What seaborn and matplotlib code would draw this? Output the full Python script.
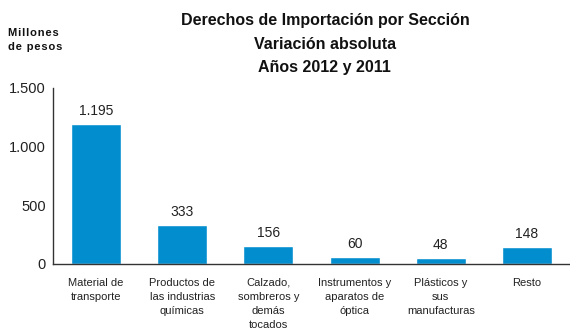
import matplotlib
matplotlib.use("Agg")
import matplotlib.pyplot as plt
import seaborn as sns
import pandas as pd

categories = ["Material de\ntransporte", "Productos de\nlas industrias\nquímicas",
              "Calzado,\nsombreros y\ndemás\ntocados", "Instrumentos y\naparatos de\nóptica",
              "Plásticos y\nsus\nmanufacturas", "Resto"]
values = [1195, 333, 156, 60, 48, 148]
value_labels = ["1.195", "333", "156", "60", "48", "148"]
yticks = [0, 500, 1000, 1500]
ytick_labels = ["0", "500", "1.000", "1.500"]
unit_label = "Millones\nde pesos"

sns.set_theme(style="white")
plt.rcParams['font.family'] = ['Liberation Sans', 'DejaVu Sans']

df = pd.DataFrame({"cat": categories, "val": values})
fig = plt.figure(figsize=(5.7, 3.34), dpi=100)
ax = fig.add_axes([0.093, 0.2096, 0.907, 0.527])
sns.barplot(data=df, x="cat", y="val", color="#028DCF", width=0.58, saturation=1, ax=ax)

for i, (v, lab) in enumerate(zip(values, value_labels)):
    ax.text(i, v + 50, lab, ha="center", va="bottom", fontsize=10, color="#222222")

ax.set_ylim(0, 1500)
ax.set_xlim(-0.5, 5.5)
ax.set_yticks(yticks)
ax.set_yticklabels(ytick_labels, fontsize=10.5, color="#222222")
ax.tick_params(axis="y", length=0, pad=5)
ax.tick_params(axis="x", length=0, pad=10)
ax.set_xticklabels(categories, fontsize=8, color="#222222", linespacing=1.5, va="top")
ax.set_xlabel("")
ax.set_ylabel("")
for s in ["top", "right"]:
    ax.spines[s].set_visible(False)
for s in ["left", "bottom"]:
    ax.spines[s].set_color("#333333")
    ax.spines[s].set_linewidth(1.0)

fig.text(0.57, 0.96, "Derechos de Importación por Sección\nVariación absoluta\nAños 2012 y 2011",
         ha="center", va="top", fontsize=11.5, fontweight="bold", linespacing=1.68, color="#111111")
spaced = "\n".join("\u200a".join(line) for line in unit_label.split("\n"))
fig.text(0.014, 0.916, spaced, ha="left", va="top", fontsize=8,
         fontweight="bold", linespacing=1.45, color="#111111")

fig.savefig("out.png", dpi=100)
